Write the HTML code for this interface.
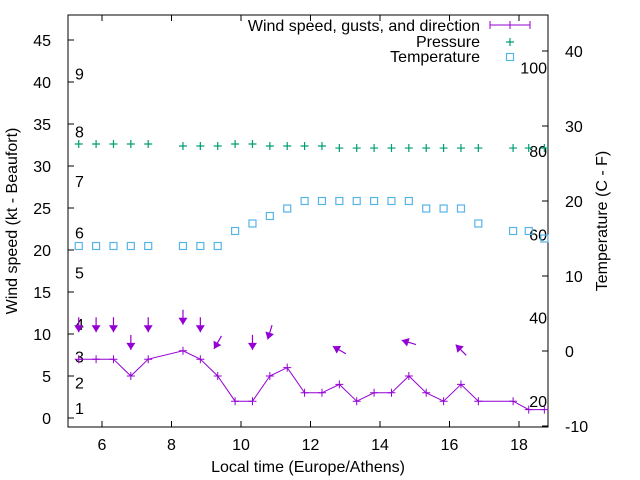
<!DOCTYPE html>
<html><head><meta charset="utf-8"><style>
html,body{margin:0;padding:0;background:#fff;}
svg{display:block;font-family:"Liberation Sans",sans-serif;}
</style></head><body>
<svg id="chart" width="640" height="480" viewBox="0 0 640 480" xmlns="http://www.w3.org/2000/svg"></svg>
<script>
const times=[5.33,5.83,6.33,6.83,7.33,8.33,8.83,9.33,9.83,10.33,10.83,11.33,11.83,12.33,12.83,13.33,13.83,14.33,14.83,15.33,15.83,16.33,16.83,17.83,18.28,18.73];
const windSpeed=[7,7,7,5,7,8,7,5,2,2,5,6,3,3,4,2,3,3,5,3,2,4,2,2,1,1];
const gustSpeed=[11.1,11.1,11.1,9.0,11.1,12.0,11.1,9.0,null,9.0,10.2,null,null,null,8.1,null,null,null,9.0,null,null,8.1,null,null,null,null];
const windDir=[0,0,0,0,0,0,0,30,null,0,17,null,null,null,120,null,null,null,107,null,null,135,null,null,null,null];
const pressure=[1016,1016,1016,1016,1016,1015,1015,1015,1016,1016,1015,1015,1015,1015,1014,1014,1014,1014,1014,1014,1014,1014,1014,1014,1014,1014];
const temperature=[14,14,14,14,14,14,14,14,16,17,18,19,20,20,20,20,20,20,20,19,19,19,17,16,16,15];
const xTicks=[6,8,10,12,14,16,18];
const yTicks=[0,5,10,15,20,25,30,35,40,45];
const y2Ticks=[-10,0,10,20,30,40];
const beaufort=[[1,1.2],[2,4.2],[3,7.3],[4,11.2],[5,17.3],[6,22.1],[7,28.2],[8,34.1],[9,41]];
const fahrenheit=[20,40,60,80,100];

const L=68,R=548,T=15,B=427;
const X=t=>102+(t-6)*34.75;
const Y=v=>418-v*8.4;
const Y2=c=>351-c*7.5;
const P=p=>Y2(27.6-(1016-p)*0.27);
const NS="http://www.w3.org/2000/svg";
const svg=document.getElementById('chart');
function mk(tag,attrs,parent){const e=document.createElementNS(NS,tag);for(const k in attrs)e.setAttribute(k,attrs[k]);(parent||svg).appendChild(e);return e;}
function txt(s,x,y,anchor,parent,extra){const e=mk('text',Object.assign({x:x,y:y,'font-size':16,'text-anchor':anchor||'middle',fill:'#000'},extra||{}),parent);e.textContent=s;return e;}

const frame=mk('rect',{x:L,y:T,width:R-L,height:B-T,fill:'none',stroke:'#000','stroke-width':1});



const xg=mk('g',{});


xTicks.forEach(t=>{const x=X(t);
 mk('line',{x1:x,y1:B,x2:x,y2:B-6,stroke:'#000'},xg);
 mk('line',{x1:x,y1:T,x2:x,y2:T+6,stroke:'#000'},xg);
 const l=txt(String(t),x,450,'middle',xg);
 
 
});
const yg=mk('g',{});


yTicks.forEach(v=>{const y=Y(v);
 mk('line',{x1:L,y1:y,x2:L+6,y2:y,stroke:'#000'},yg);
 const l=txt(String(v),51,y+6,'end',yg);
 
 
});
const y2g=mk('g',{});


y2Ticks.forEach(v=>{const y=Y2(v);
 mk('line',{x1:R,y1:y,x2:R-6,y2:y,stroke:'#000'},y2g);
 const l=txt(String(v),565,y+6,'start',y2g);
 
 
});
beaufort.forEach(b=>{const l=txt(String(b[0]),75,Y(b[1])+6,'start');
 
 });
fahrenheit.forEach(f=>{const l=txt(String(f),547,Y2((f-32)*5/9)+6,'end');
 
 });

let t1=txt('Local time (Europe/Athens)',308,472);


let t2=txt('Wind speed (kt - Beaufort)',0,0,'middle',null,{transform:'translate(17,221) rotate(-90)'});


let t3=txt('Temperature (C - F)',0,0,'middle',null,{transform:'translate(607,221) rotate(-90)'});



const purple='#9400d3',green='#009e73',blue='#56b4e9';
pressure.forEach((p,i)=>{const x=X(times[i]),y=P(p);
 const g=mk('path',{d:`M${x-4},${y}h8M${x},${y-4}v8`,stroke:green,'stroke-width':1.2});
 
 });
temperature.forEach((c,i)=>{const x=X(times[i]),y=Y2(c);
 const g=mk('rect',{x:x-3.5,y:y-3.5,width:7,height:7,fill:'none',stroke:blue,'stroke-width':1.2});
 
 });
const wl=mk('polyline',{points:times.map((t,i)=>X(t)+','+Y(windSpeed[i])).join(' '),fill:'none',stroke:purple,'stroke-width':1});


windSpeed.forEach((w,i)=>{const x=X(times[i]),y=Y(w);
 const g=mk('path',{d:`M${x-4},${y}h8M${x},${y-4}v8`,stroke:purple,'stroke-width':1});
 
 });
gustSpeed.forEach((g,i)=>{if(g===null)return;
 const cx=X(times[i]),cy=Y(g),a=windDir[i]*Math.PI/180;
 const dx=-Math.sin(a),dy=Math.cos(a),len=15;
 const x1=cx-dx*len/2,y1=cy-dy*len/2,x2=cx+dx*len/2,y2=cy+dy*len/2;
 const grp=mk('g',{});
 
 
 mk('line',{x1:x1,y1:y1,x2:x2,y2:y2,stroke:purple,'stroke-width':1.2},grp);
 const px=-dy,py=dx,hl=7,hw=4.5;
 const bx=x2-dx*hl,by=y2-dy*hl;
 mk('polygon',{points:`${x2},${y2} ${bx+px*hw},${by+py*hw} ${bx-px*hw},${by-py*hw}`,fill:purple},grp);
});
const lg=mk('g',{});


txt('Wind speed, gusts, and direction',480,31,'end',lg);
mk('path',{d:'M490,25h40M490,21v8M530,21v8M510,21v8',stroke:purple,'stroke-width':1},lg);
txt('Pressure',480,47,'end',lg);
mk('path',{d:'M506,42h8M510,38v8',stroke:green,'stroke-width':1.2},lg);
txt('Temperature',480,62,'end',lg);
mk('rect',{x:506.5,y:53.5,width:7,height:7,fill:'none',stroke:blue,'stroke-width':1.2},lg);
</script>
</body></html>
